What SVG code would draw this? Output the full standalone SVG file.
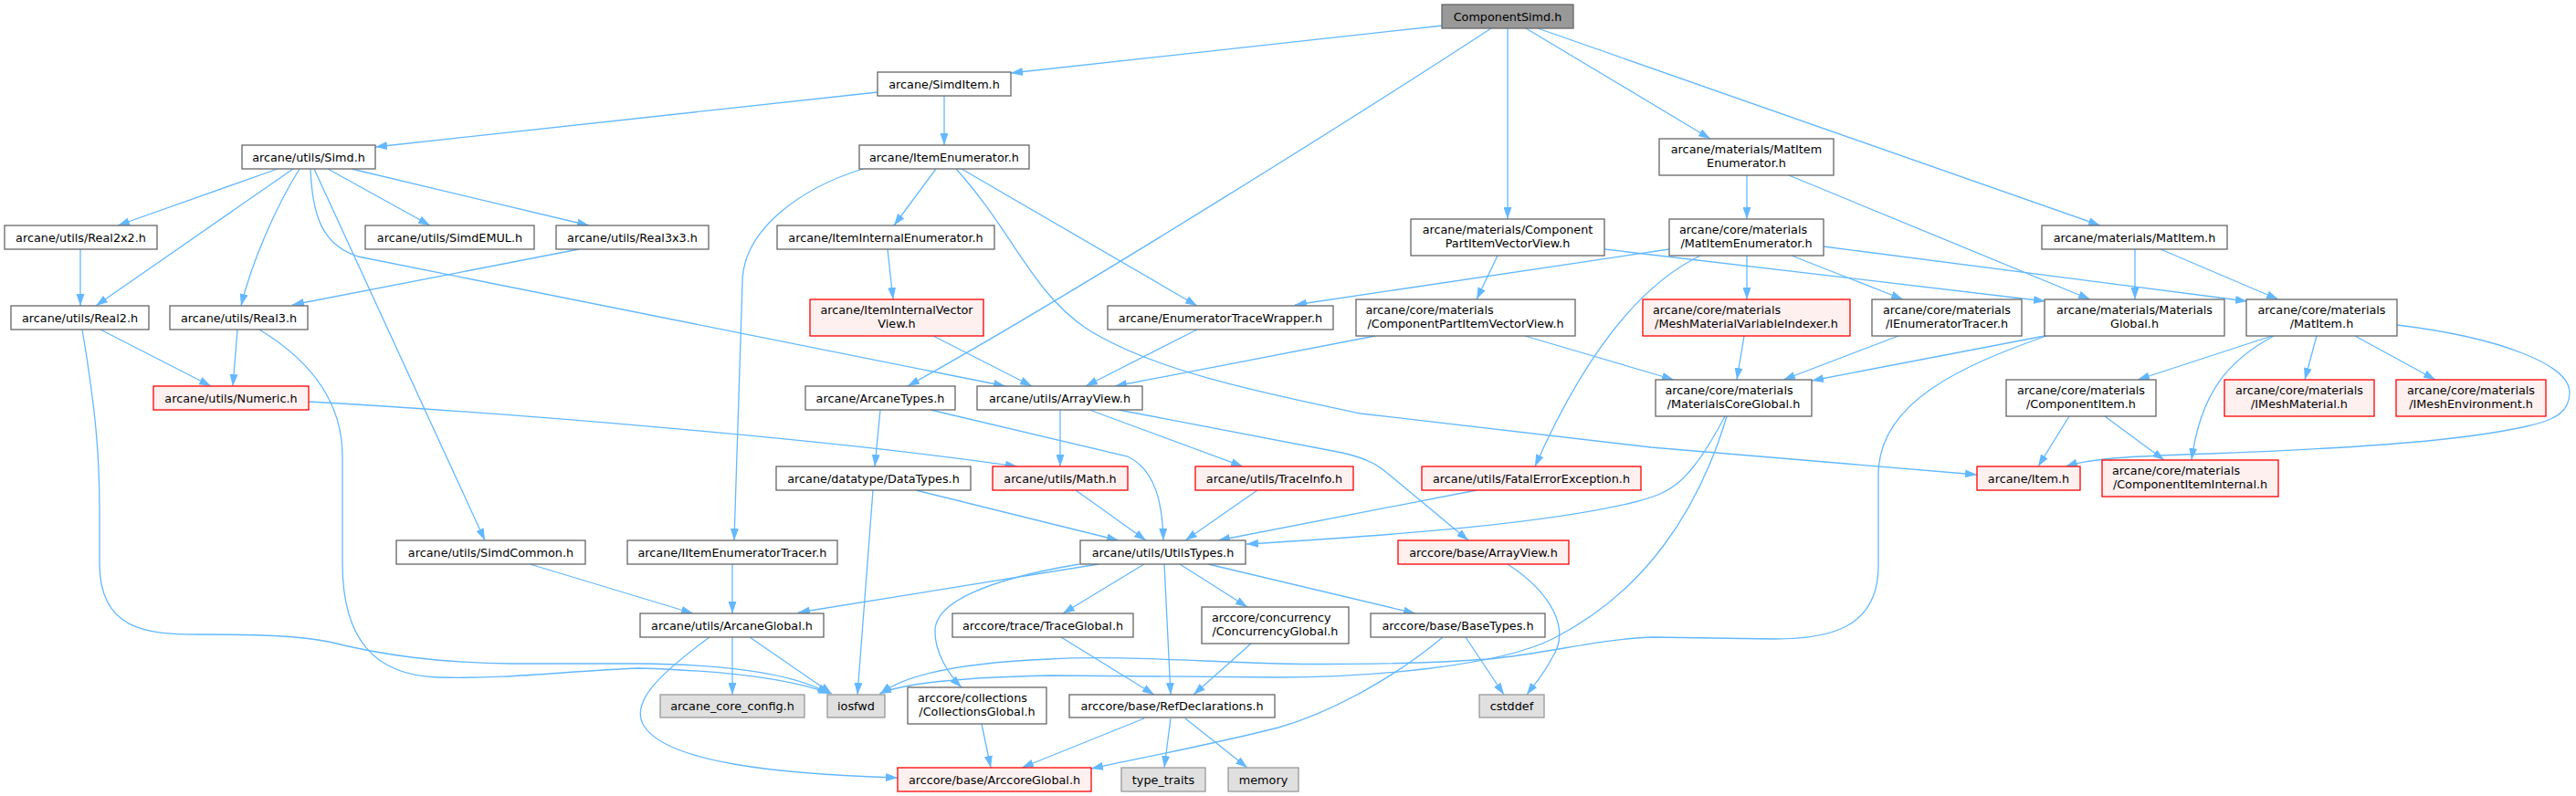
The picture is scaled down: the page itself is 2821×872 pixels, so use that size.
<svg xmlns="http://www.w3.org/2000/svg" width="2821" height="872" viewBox="0 0 2821 872">
<style>
text{font-family:"DejaVu Sans","Liberation Sans",sans-serif;font-size:12.8px;fill:#000}
.c{text-anchor:middle}
.l{text-anchor:start}
.n rect{fill:#fff;stroke:#666;stroke-width:1.3}
.r rect{fill:#FFF0F0;stroke:#FF0000;stroke-width:1.3}
.g rect{fill:#E0E0E0;stroke:#999;stroke-width:1.3}
.root rect{fill:#999;stroke:#666;stroke-width:1.3}
#edges path{fill:none;stroke:#63B8FF;stroke-width:1.3;marker-end:url(#ah)}
</style>
<defs>
<marker id="ah" markerUnits="userSpaceOnUse" markerWidth="13" markerHeight="9" refX="13" refY="4.5" orient="auto"><path d="M0,0 L13,4.5 L0,9 z" fill="#63B8FF" stroke="none"/></marker>
</defs>
<rect width="2821" height="872" fill="#fff"/>
<g id="edges">
<path d="M1580,28 L1107,80"/>
<path d="M1633,31 C1520,105 1180,320 994,423"/>
<path d="M1651,31 L1651,240"/>
<path d="M1671,31 L1873,152"/>
<path d="M1684,31 L2300,247"/>
<path d="M961,101 L411,161"/>
<path d="M1034,105 L1034,159"/>
<path d="M304,185 L129,247"/>
<path d="M321,185 L105,335"/>
<path d="M328,185 C300,230 275,290 264,335"/>
<path d="M344,185 L531,592"/>
<path d="M340,185 C342,235 352,268 392,281 L1101,423"/>
<path d="M359,185 L471,247"/>
<path d="M385,185 L645,247"/>
<path d="M88,273 L88,335"/>
<path d="M634,273 L320,334"/>
<path d="M110,361 L231,423"/>
<path d="M90,361 C105,450 109,500 109,560 L109,617 C109,690 160,695 217,695 C290,695 330,697 360,703 C420,718 480,726 560,727 L700,727 C800,728 870,738 908,760"/>
<path d="M260,361 L255,423"/>
<path d="M284,361 C340,395 375,440 375,500 L375,617 C375,700 410,740 480,742 C560,744 620,735 700,732 C800,735 870,745 909,760"/>
<path d="M338,440 C550,452 900,480 1114,511"/>
<path d="M1025,185 L979,247"/>
<path d="M945,185 C880,205 813,250 813,310 L804,592"/>
<path d="M1047,185 C1110,255 1130,320 1190,360 C1260,405 1380,430 1490,453 L1808,490 L2165,520"/>
<path d="M1053,185 L1311,335"/>
<path d="M972,273 L978,328"/>
<path d="M1022,368 L1130,423"/>
<path d="M1311,361 L1189,423"/>
<path d="M1506,368 L1221,423"/>
<path d="M1828,273 L1418,334"/>
<path d="M964,449 L958,511"/>
<path d="M1019,449 L1235,500 C1265,515 1273,550 1274,592"/>
<path d="M1161,449 L1161,511"/>
<path d="M1193,449 L1361,511"/>
<path d="M1225,449 L1470,496 C1500,503 1510,510 1525,523 L1608,592"/>
<path d="M1003,537 L1225,592"/>
<path d="M956,537 L939,761"/>
<path d="M1178,537 L1255,592"/>
<path d="M1377,537 L1298,592"/>
<path d="M1617,537 L1334,592"/>
<path d="M1889,456 C1850,530 1830,540 1790,550 C1700,572 1550,585 1365,596"/>
<path d="M1891,456 C1860,560 1800,650 1700,700 C1640,730 1500,742 1400,742 L1150,740 C1050,742 990,748 963,760"/>
<path d="M2241,368 C2150,400 2057,440 2057,520 L2057,620 C2057,690 2000,700 1943,700 L1810,698 C1750,700 1700,715 1630,722 C1550,728 1450,728 1400,727 C1300,724 1220,718 1150,722 C1050,726 990,740 964,760"/>
<path d="M2239,368 L1984,417"/>
<path d="M1670,368 L1833,416"/>
<path d="M1910,368 L1902,416"/>
<path d="M2079,368 L1953,416"/>
<path d="M1913,192 L1913,240"/>
<path d="M1959,192 L2289,328"/>
<path d="M1640,280 L1617,328"/>
<path d="M1757,273 L2240,330"/>
<path d="M1913,280 L1913,328"/>
<path d="M1962,280 L2084,328"/>
<path d="M1997,270 L2461,330"/>
<path d="M1862,280 C1790,315 1730,400 1681,511"/>
<path d="M2338,273 L2338,328"/>
<path d="M2366,273 L2495,328"/>
<path d="M2488,368 L2341,416"/>
<path d="M2537,368 L2524,416"/>
<path d="M2579,368 L2667,416"/>
<path d="M2625,356 C2740,370 2814,400 2814,430 C2814,450 2800,460 2767,467 C2700,482 2600,490 2420,497 C2330,500 2290,502 2262,511"/>
<path d="M2490,368 C2440,395 2410,430 2400,504"/>
<path d="M2266,456 L2232,511"/>
<path d="M2305,456 L2370,504"/>
<path d="M1203,618 L874,671"/>
<path d="M1182,618 C1080,635 1025,660 1024,690 C1023,715 1040,740 1053,753"/>
<path d="M1253,618 L1164,672"/>
<path d="M1275,618 L1282,761"/>
<path d="M1292,618 L1366,665"/>
<path d="M1323,618 L1550,672"/>
<path d="M577,617 L759,672"/>
<path d="M802,618 L802,672"/>
<path d="M802,698 L802,761"/>
<path d="M821,698 L911,760"/>
<path d="M777,698 C720,740 690,770 705,795 C730,835 850,848 983,852"/>
<path d="M1162,698 L1264,761"/>
<path d="M1370,705 L1307,761"/>
<path d="M1075,793 L1085,841"/>
<path d="M1253,787 L1119,841"/>
<path d="M1282,787 L1275,841"/>
<path d="M1298,787 L1366,841"/>
<path d="M1580,698 C1530,740 1460,780 1400,797 C1330,815 1250,830 1195,842"/>
<path d="M1605,698 L1647,761"/>
<path d="M1651,618 C1700,650 1720,690 1700,720 C1690,740 1680,750 1672,761"/>
</g>
<g id="n0" class="root"><rect x="1579" y="5" width="144" height="26"/><text class="c" x="1651" y="22.5">ComponentSimd.h</text></g>
<g id="n1" class="n"><rect x="961" y="79" width="146" height="26"/><text class="c" x="1034" y="96.5">arcane/SimdItem.h</text></g>
<g id="n2" class="n"><rect x="265" y="159" width="146" height="26"/><text class="c" x="338" y="176.5">arcane/utils/Simd.h</text></g>
<g id="n3" class="n"><rect x="941" y="159" width="186" height="26"/><text class="c" x="1034" y="176.5">arcane/ItemEnumerator.h</text></g>
<g id="n4" class="n"><rect x="1817" y="152" width="191" height="40"/><text class="c" x="1912.5" y="168">arcane/materials/MatItem</text><text class="c" x="1912.5" y="183">Enumerator.h</text></g>
<g id="n5" class="n"><rect x="2236" y="247" width="203" height="26"/><text class="c" x="2337.5" y="264.5">arcane/materials/MatItem.h</text></g>
<g id="n6" class="n"><rect x="5" y="247" width="167" height="26"/><text class="c" x="88.5" y="264.5">arcane/utils/Real2x2.h</text></g>
<g id="n7" class="n"><rect x="400" y="247" width="185" height="26"/><text class="c" x="492.5" y="264.5">arcane/utils/SimdEMUL.h</text></g>
<g id="n8" class="n"><rect x="609" y="247" width="167" height="26"/><text class="c" x="692.5" y="264.5">arcane/utils/Real3x3.h</text></g>
<g id="n9" class="n"><rect x="851" y="247" width="238" height="26"/><text class="c" x="970" y="264.5">arcane/ItemInternalEnumerator.h</text></g>
<g id="n10" class="n"><rect x="1545" y="240" width="212" height="40"/><text class="c" x="1651" y="256">arcane/materials/Component</text><text class="c" x="1651" y="271">PartItemVectorView.h</text></g>
<g id="n11" class="n"><rect x="1828" y="240" width="169" height="40"/><text class="l" x="1839" y="256">arcane/core/materials</text><text class="c" x="1912.5" y="271">/MatItemEnumerator.h</text></g>
<g id="n12" class="n"><rect x="12" y="335" width="151" height="26"/><text class="c" x="87.5" y="352.5">arcane/utils/Real2.h</text></g>
<g id="n13" class="n"><rect x="186" y="335" width="151" height="26"/><text class="c" x="261.5" y="352.5">arcane/utils/Real3.h</text></g>
<g id="n14" class="r"><rect x="887" y="328" width="190" height="40"/><text class="c" x="982" y="344">arcane/ItemInternalVector</text><text class="c" x="982" y="359">View.h</text></g>
<g id="n15" class="n"><rect x="1213" y="335" width="247" height="26"/><text class="c" x="1336.5" y="352.5">arcane/EnumeratorTraceWrapper.h</text></g>
<g id="n16" class="n"><rect x="1485" y="328" width="240" height="40"/><text class="l" x="1495.5" y="344">arcane/core/materials</text><text class="c" x="1605" y="359">/ComponentPartItemVectorView.h</text></g>
<g id="n17" class="r"><rect x="1799" y="328" width="227" height="40"/><text class="l" x="1810" y="344">arcane/core/materials</text><text class="c" x="1912.5" y="359">/MeshMaterialVariableIndexer.h</text></g>
<g id="n18" class="n"><rect x="2050" y="328" width="164" height="40"/><text class="c" x="2132" y="344">arcane/core/materials</text><text class="c" x="2132" y="359">/IEnumeratorTracer.h</text></g>
<g id="n19" class="n"><rect x="2239" y="328" width="197" height="40"/><text class="c" x="2337.5" y="344">arcane/materials/Materials</text><text class="c" x="2337.5" y="359">Global.h</text></g>
<g id="n20" class="n"><rect x="2460" y="328" width="165" height="40"/><text class="c" x="2542.5" y="344">arcane/core/materials</text><text class="c" x="2542.5" y="359">/MatItem.h</text></g>
<g id="n21" class="r"><rect x="168" y="423" width="170" height="26"/><text class="c" x="253" y="440.5">arcane/utils/Numeric.h</text></g>
<g id="n22" class="n"><rect x="882" y="423" width="164" height="26"/><text class="c" x="964" y="440.5">arcane/ArcaneTypes.h</text></g>
<g id="n23" class="n"><rect x="1070" y="423" width="181" height="26"/><text class="c" x="1160.5" y="440.5">arcane/utils/ArrayView.h</text></g>
<g id="n24" class="n"><rect x="1813" y="416" width="171" height="40"/><text class="l" x="1823.5" y="432">arcane/core/materials</text><text class="c" x="1898.5" y="447">/MaterialsCoreGlobal.h</text></g>
<g id="n25" class="n"><rect x="2197" y="416" width="164" height="40"/><text class="c" x="2279" y="432">arcane/core/materials</text><text class="c" x="2279" y="447">/ComponentItem.h</text></g>
<g id="n26" class="r"><rect x="2436" y="416" width="164" height="40"/><text class="c" x="2518" y="432">arcane/core/materials</text><text class="c" x="2518" y="447">/IMeshMaterial.h</text></g>
<g id="n27" class="r"><rect x="2624" y="416" width="164" height="40"/><text class="c" x="2706" y="432">arcane/core/materials</text><text class="c" x="2706" y="447">/IMeshEnvironment.h</text></g>
<g id="n28" class="n"><rect x="850" y="511" width="213" height="26"/><text class="c" x="956.5" y="528.5">arcane/datatype/DataTypes.h</text></g>
<g id="n29" class="r"><rect x="1087" y="511" width="148" height="26"/><text class="c" x="1161" y="528.5">arcane/utils/Math.h</text></g>
<g id="n30" class="r"><rect x="1309" y="511" width="173" height="26"/><text class="c" x="1395.5" y="528.5">arcane/utils/TraceInfo.h</text></g>
<g id="n31" class="r"><rect x="1557" y="511" width="240" height="26"/><text class="c" x="1677" y="528.5">arcane/utils/FatalErrorException.h</text></g>
<g id="n32" class="r"><rect x="2165" y="511" width="113" height="26"/><text class="c" x="2221.5" y="528.5">arcane/Item.h</text></g>
<g id="n33" class="r"><rect x="2302" y="504" width="193" height="40"/><text class="l" x="2313" y="520">arcane/core/materials</text><text class="c" x="2398.5" y="535">/ComponentItemInternal.h</text></g>
<g id="n34" class="n"><rect x="434" y="592" width="207" height="26"/><text class="c" x="537.5" y="609.5">arcane/utils/SimdCommon.h</text></g>
<g id="n35" class="n"><rect x="687" y="592" width="230" height="26"/><text class="c" x="802" y="609.5">arcane/IItemEnumeratorTracer.h</text></g>
<g id="n36" class="n"><rect x="1183" y="592" width="181" height="26"/><text class="c" x="1273.5" y="609.5">arcane/utils/UtilsTypes.h</text></g>
<g id="n37" class="r"><rect x="1531" y="592" width="187" height="26"/><text class="c" x="1624.5" y="609.5">arccore/base/ArrayView.h</text></g>
<g id="n38" class="n"><rect x="701" y="672" width="201" height="26"/><text class="c" x="801.5" y="689.5">arcane/utils/ArcaneGlobal.h</text></g>
<g id="n39" class="n"><rect x="1043" y="672" width="198" height="26"/><text class="c" x="1142" y="689.5">arccore/trace/TraceGlobal.h</text></g>
<g id="n40" class="n"><rect x="1316" y="665" width="161" height="40"/><text class="l" x="1327" y="681">arccore/concurrency</text><text class="c" x="1396.5" y="696">/ConcurrencyGlobal.h</text></g>
<g id="n41" class="n"><rect x="1501" y="672" width="191" height="26"/><text class="c" x="1596.5" y="689.5">arccore/base/BaseTypes.h</text></g>
<g id="n42" class="g"><rect x="723" y="761" width="158" height="25"/><text class="c" x="802" y="778">arcane_core_config.h</text></g>
<g id="n43" class="g"><rect x="906" y="761" width="63" height="25"/><text class="c" x="937.5" y="778">iosfwd</text></g>
<g id="n44" class="n"><rect x="994" y="753" width="152" height="40"/><text class="l" x="1005" y="769">arccore/collections</text><text class="c" x="1070" y="784">/CollectionsGlobal.h</text></g>
<g id="n45" class="n"><rect x="1171" y="761" width="225" height="25"/><text class="c" x="1283.5" y="778">arccore/base/RefDeclarations.h</text></g>
<g id="n46" class="g"><rect x="1620" y="761" width="71" height="25"/><text class="c" x="1655.5" y="778">cstddef</text></g>
<g id="n47" class="r"><rect x="983" y="841" width="212" height="26"/><text class="c" x="1089" y="858.5">arccore/base/ArccoreGlobal.h</text></g>
<g id="n48" class="g"><rect x="1228" y="841" width="92" height="26"/><text class="c" x="1274" y="858.5">type_traits</text></g>
<g id="n49" class="g"><rect x="1345" y="841" width="77" height="26"/><text class="c" x="1383.5" y="858.5">memory</text></g>
</svg>
